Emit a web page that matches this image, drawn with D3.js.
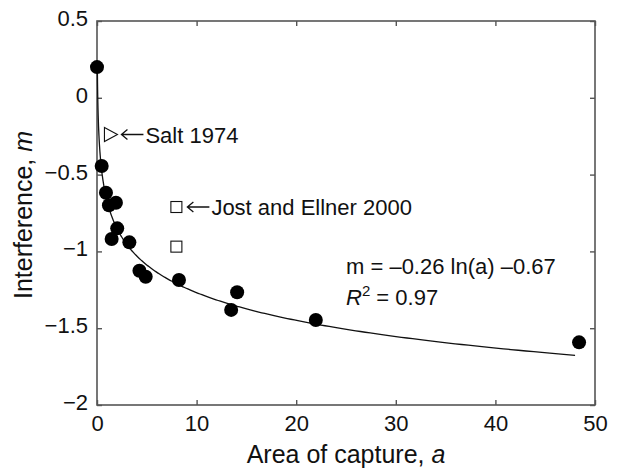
<!DOCTYPE html>
<html>
<head>
<meta charset="utf-8">
<script src="https://cdn.jsdelivr.net/npm/d3@7"></script>
<style>
  html, body { margin: 0; padding: 0; background: #fff; }
  svg { display: block; }
  text { font-family: "Liberation Sans", Arial, sans-serif; fill: #111; }
</style>
</head>
<body>
<svg id="chart" width="619" height="469"></svg>
<script>
// ---- data ----
const areaCapture = [0, 0.47, 0.9, 1.2, 1.9, 2.03, 1.47, 3.25, 4.26, 4.89, 8.23, 13.47, 14.07, 21.97, 48.4];
const interference = [0.2, -0.444, -0.618, -0.70, -0.683, -0.85, -0.919, -0.941, -1.126, -1.165, -1.186, -1.381, -1.266, -1.447, -1.592];
const saltX = [1.35];
const saltY = [-0.239];
const jostX = [7.97, 7.97];
const jostY = [-0.711, -0.969];
const fitSlope = -0.26;
const fitIntercept = -0.67;
const fitRange = [0.035, 48];
const xTicks = [0, 10, 20, 30, 40, 50];
const yTicks = [0.5, 0, -0.5, -1, -1.5, -2];

// ---- layout ----
const svg = d3.select("#chart");
const L = 97, R = 595, T = 21, B = 405;
const x = d3.scaleLinear().domain([0, 50]).range([L, R]);
const y = d3.scaleLinear().domain([-2, 0.5]).range([B, T]);
const axisColor = "#555";
const tickFs = 22;
const annFs = 22;

// frame
svg.append("rect").attr("x", L).attr("y", T).attr("width", R - L).attr("height", B - T)
  .attr("fill", "none").attr("stroke", axisColor).attr("stroke-width", 1.6);

// axes with inward ticks
const fmt = d => d < 0 ? "\u2212" + Math.abs(d) : String(d);
const xAxis = svg.append("g").attr("transform", `translate(0,${B})`)
  .call(d3.axisBottom(x).tickValues(xTicks).tickSize(-5).tickPadding(10).tickFormat(fmt));
const xAxisTop = svg.append("g").attr("transform", `translate(0,${T})`)
  .call(d3.axisTop(x).tickValues(xTicks).tickSize(-5).tickFormat(""));
const yAxis = svg.append("g").attr("transform", `translate(${L},0)`)
  .call(d3.axisLeft(y).tickValues(yTicks).tickSize(-5).tickPadding(9).tickFormat(fmt));
const yAxisR = svg.append("g").attr("transform", `translate(${R},0)`)
  .call(d3.axisRight(y).tickValues(yTicks).tickSize(-5).tickFormat(""));
[xAxis, xAxisTop, yAxis, yAxisR].forEach(g => {
  g.select(".domain").remove();
  g.selectAll("line").attr("stroke", axisColor).attr("stroke-width", 1.4);
  g.selectAll("text").attr("font-size", tickFs).attr("fill", "#111")
    .style("font-family", '"Liberation Sans", Arial, sans-serif');
});
yAxis.selectAll("text").attr("dy", "0.2em");

// axis titles
const xt = svg.append("text").attr("x", (L + R) / 2).attr("y", 463)
  .attr("text-anchor", "middle").attr("font-size", 25);
xt.append("tspan").text("Area of capture, ");
xt.append("tspan").attr("font-style", "italic").text("a");

const yt = svg.append("text").attr("transform", `translate(32,${(T + B) / 2 + 2}) rotate(-90)`)
  .attr("text-anchor", "middle").attr("font-size", 25);
yt.append("tspan").text("Interference, ");
yt.append("tspan").attr("font-style", "italic").text("m");

// fitted curve
const curveData = d3.range(0, 401).map(i => {
  const a = Math.exp(Math.log(fitRange[0]) + (Math.log(fitRange[1]) - Math.log(fitRange[0])) * i / 400);
  return [a, fitSlope * Math.log(a) + fitIntercept];
});
svg.append("path").datum(curveData)
  .attr("d", d3.line().x(d => x(d[0])).y(d => y(d[1])))
  .attr("fill", "none").attr("stroke", "#111").attr("stroke-width", 1.3);

// filled circles
svg.append("g").selectAll("circle").data(areaCapture.map((a, i) => [a, interference[i]]))
  .join("circle").attr("cx", d => x(d[0])).attr("cy", d => y(d[1])).attr("r", 7)
  .attr("fill", "#000");

// Salt 1974 triangle (right-pointing, open)
svg.append("g").selectAll("path").data(saltX.map((a, i) => [a, saltY[i]]))
  .join("path")
  .attr("d", d => { const cx = x(d[0]), cy = y(d[1]); return `M${cx - 6},${cy - 7}L${cx + 7},${cy}L${cx - 6},${cy + 7}Z`; })
  .attr("fill", "#fff").attr("stroke", "#111").attr("stroke-width", 1.1);

// Jost & Ellner squares (open)
svg.append("g").selectAll("rect").data(jostX.map((a, i) => [a, jostY[i]]))
  .join("rect").attr("x", d => x(d[0]) - 5.5).attr("y", d => y(d[1]) - 5.5)
  .attr("width", 11).attr("height", 11)
  .attr("fill", "#fff").attr("stroke", "#111").attr("stroke-width", 1.1);

// annotations (arrow drawn as line + open head)
function arrowLabel(px, py, label) {
  const x0 = px + 11, x1 = px + 33;
  svg.append("path").attr("d", `M${x1},${py}L${x0},${py}M${x0 + 6},${py - 5}L${x0},${py}L${x0 + 6},${py + 5}`)
    .attr("fill", "none").attr("stroke", "#111").attr("stroke-width", 1.3);
  svg.append("text").attr("x", x1 + 2).attr("y", py + 8).attr("font-size", annFs).text(label);
}
arrowLabel(x(saltX[0]), y(saltY[0]), "Salt 1974");
arrowLabel(x(jostX[0]), y(jostY[0]), "Jost and Ellner 2000");

// equation
svg.append("text").attr("x", 346).attr("y", 274).attr("font-size", 22)
  .text("m = \u20130.26 ln(a) \u20130.67");
const r2 = svg.append("text").attr("x", 346).attr("y", 305).attr("font-size", 22);
r2.append("tspan").attr("font-style", "italic").text("R");
r2.append("tspan").attr("font-size", 15).attr("dy", -9).text("2");
r2.append("tspan").attr("dy", 9).text(" = 0.97");
</script>
</body>
</html>
